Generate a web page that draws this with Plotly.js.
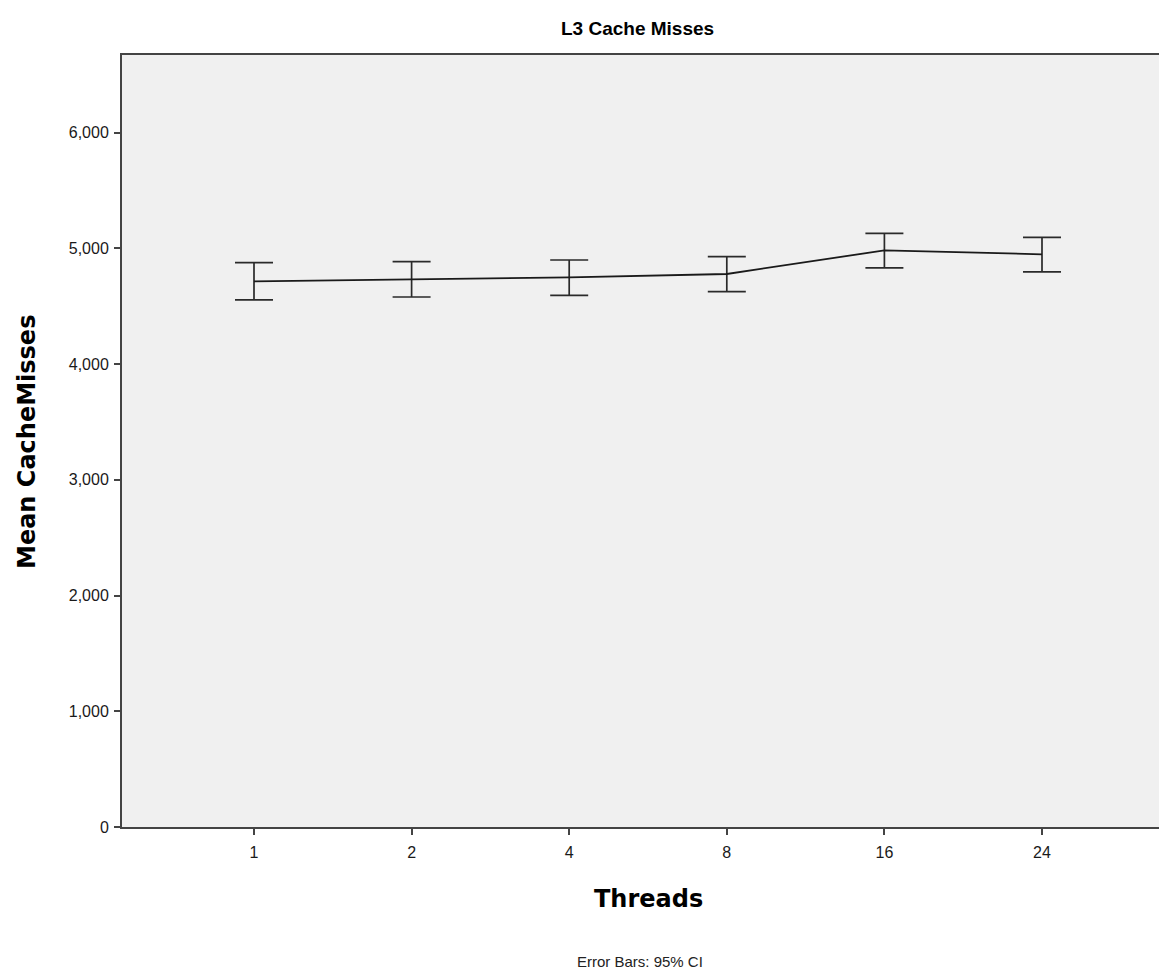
<!DOCTYPE html>
<html>
<head>
<meta charset="utf-8">
<script src="https://cdn.plot.ly/plotly-3.0.1.min.js"></script>
<style>
html,body{margin:0;padding:0;overflow:hidden;background:#fff;}
#chart{width:1175px;height:972px;}
</style>
</head>
<body>
<div id="chart"></div>
<script>
const threads = ['1','2','4','8','16','24'];
const meanMisses = [4714, 4733, 4749, 4778, 4982, 4948];
const ciUpper = [4876, 4885, 4899, 4928, 5129, 5095];
const ciLower = [4555, 4579, 4593, 4625, 4830, 4796];
const yTicks = [0, 1000, 2000, 3000, 4000, 5000, 6000];

const plusErr = meanMisses.map((m, i) => ciUpper[i] - m);
const minusErr = meanMisses.map((m, i) => m - ciLower[i]);

const plotL = 122, plotW = 1052, plotT = 55, plotH = 772;
const px = x => (x - plotL) / plotW;
const py = y => (plotT + plotH - y) / plotH;

const trace = {
  x: threads,
  y: meanMisses,
  type: 'scatter',
  mode: 'lines',
  line: {color: '#1a1a1a', width: 1.8},
  error_y: {
    type: 'data',
    symmetric: false,
    array: plusErr,
    arrayminus: minusErr,
    color: '#2a2a2a',
    thickness: 1.7,
    width: 19
  },
  hoverinfo: 'x+y'
};

const axisTitleFont = {size: 24, color: '#000', family: 'DejaVu Sans, sans-serif', weight: 'bold'};

const layout = {
  width: 1175,
  height: 972,
  paper_bgcolor: '#ffffff',
  plot_bgcolor: '#f0f0f0',
  margin: {l: plotL, r: 1, t: plotT, b: 145},
  showlegend: false,
  font: {family: 'Liberation Sans, Arial, sans-serif', color: '#1a1a1a', size: 16},
  xaxis: {
    type: 'category',
    range: [-0.8376, 5.8376],
    showline: true,
    linecolor: '#444',
    linewidth: 2,
    mirror: true,
    ticks: 'outside',
    ticklen: 6,
    tickwidth: 2,
    tickcolor: '#444',
    ticklabelstandoff: 4,
    showgrid: false,
    zeroline: false,
    tickfont: {size: 16, color: '#1a1a1a'}
  },
  yaxis: {
    range: [0, 6670],
    tickvals: yTicks,
    tickformat: ',d',
    showline: true,
    linecolor: '#444',
    linewidth: 2,
    ticks: 'outside',
    ticklen: 6,
    tickwidth: 2,
    tickcolor: '#444',
    ticklabelstandoff: 2,
    showgrid: false,
    zeroline: false,
    tickfont: {size: 16, color: '#1a1a1a'}
  },
  annotations: [
    {
      text: 'L3 Cache Misses', xref: 'paper', yref: 'paper',
      x: px(637), y: py(28), showarrow: false,
      xanchor: 'center', yanchor: 'middle',
      font: {size: 19, color: '#000', family: 'Liberation Sans, Arial, sans-serif', weight: 'bold'}
    },
    {
      text: 'Threads', xref: 'paper', yref: 'paper',
      x: px(648), y: py(899), showarrow: false,
      xanchor: 'center', yanchor: 'middle',
      font: axisTitleFont
    },
    {
      text: 'Mean CacheMisses', xref: 'paper', yref: 'paper',
      x: px(27), y: py(442), showarrow: false, textangle: -90,
      xanchor: 'center', yanchor: 'middle',
      font: axisTitleFont
    },
    {
      text: 'Error Bars: 95% CI', xref: 'paper', yref: 'paper',
      x: px(640), y: py(961), showarrow: false,
      xanchor: 'center', yanchor: 'middle',
      font: {size: 15, color: '#222', family: 'Liberation Sans Narrow, Liberation Sans, Arial, sans-serif'}
    }
  ]
};

Plotly.newPlot('chart', [trace], layout, {displayModeBar: false, staticPlot: true});
</script>
</body>
</html>
